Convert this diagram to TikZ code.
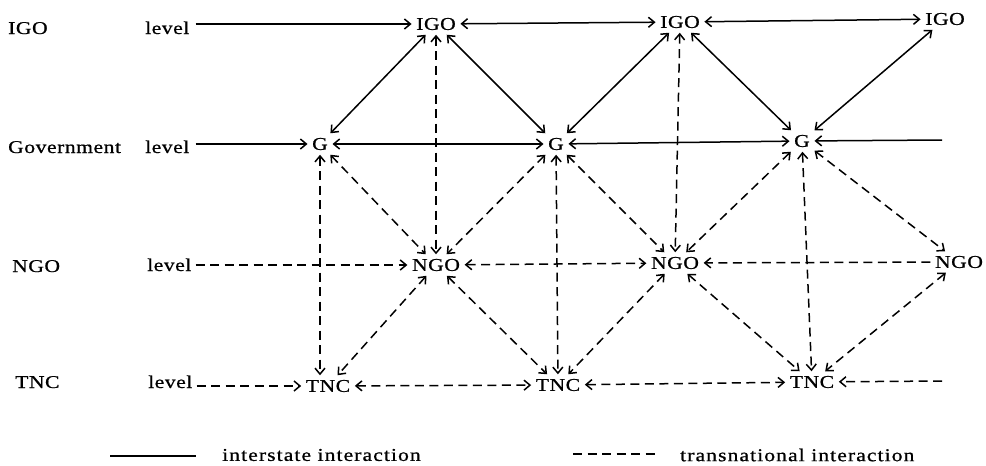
\documentclass[tikz,border=0pt]{standalone}
\usepackage{fontspec}
\setmainfont{Liberation Serif}[FakeStretch=1.2,LetterSpace=3,FakeBold=0.8]
\newfontfamily\legendfont{Liberation Serif}[FakeStretch=1.2,LetterSpace=6,FakeBold=0.8]
\usetikzlibrary{arrows.meta}
\begin{document}
\begin{tikzpicture}[x=1pt,y=-1pt,
  every node/.style={font=\fontsize{18}{21}\selectfont, inner sep=4.5pt},
  >={Straight Barb[length=6pt,width=10pt]},
  link/.style={line width=1.5pt},
  trans/.style={line width=1.5pt, dash pattern=on 9pt off 5.5pt},
  lbl/.style={anchor=base west, inner sep=0pt}]
\useasboundingbox (0,0) rectangle (986,466);

% row labels
\node[lbl] (tIGO) at (8,34) {IGO};
\node[lbl] (tGov) at (8,153) {Government};
\node[lbl] (tNGO) at (12,272) {NGO};
\node[lbl] (tTNC) at (15,388) {TNC};
\node[lbl] (lv1) at (145,34) {level};
\node[lbl] (lv2) at (145,153) {level};
\node[lbl] (lv3) at (147,271) {level};
\node[lbl] (lv4) at (148,388) {level};

% actors
\node (IGO1) at (436,24) {IGO};
\node (IGO2) at (680,22) {IGO};
\node (IGO3) at (945,19) {IGO};
\node (G1) at (320,144) {G};
\node (G2) at (556,144) {G};
\node (G3) at (802,141) {G};
\node (NGO1) at (436,265) {NGO};
\node (NGO2) at (675,263) {NGO};
\node (NGO3) at (959,262) {NGO};
\node (TNC1) at (328,386) {TNC};
\node (TNC2) at (558,385) {TNC};
\node (TNC3) at (812,382) {TNC};

\coordinate (gend) at (942,140);
\coordinate (tend) at (942,381);

% interstate links
\draw[link,->] ([xshift=6pt]lv1.east |- IGO1) -- (IGO1);
\draw[link,->] ([xshift=6pt]lv2.east |- G1) -- (G1);
\draw[link,->] (gend) -- (G3);
\draw[link,<->] (IGO1) -- (IGO2);
\draw[link,<->] (IGO2) -- (IGO3);
\draw[link,<->] (G1) -- (G2);
\draw[link,<->] (G2) -- (G3);
\draw[link,<->] (IGO1) -- (G1);
\draw[link,<->] (IGO1) -- (G2);
\draw[link,<->] (IGO2) -- (G2);
\draw[link,<->] (IGO2) -- (G3);
\draw[link,<->] (IGO3) -- (G3);

% transnational links
\draw[trans,->] ([xshift=4pt]lv3.east |- NGO1) -- (NGO1);
\draw[trans,->] ([xshift=4pt]lv4.east |- TNC1) -- (TNC1);
\draw[trans,->] (NGO3) -- (NGO2);
\draw[trans,->] (tend) -- (TNC3);
\draw[trans,<->] (NGO1) -- (NGO2);
\draw[trans,<->] (TNC1) -- (TNC2);
\draw[trans,<->] (TNC2) -- (TNC3);
\draw[trans,<->] (IGO1) -- (NGO1);
\draw[trans,<->] (IGO2) -- (NGO2);
\draw[trans,<->] (G1.south) -- (G1.south |- TNC1.north);
\draw[trans,<->] (G2) -- (TNC2);
\draw[trans,<->] (G3) -- (TNC3);
\draw[trans,<->] (G1) -- (NGO1);
\draw[trans,<->] (G2) -- (NGO1);
\draw[trans,<->] (G2) -- (NGO2);
\draw[trans,<->] (G3) -- (NGO2);
\draw[trans,<->] (G3) -- (NGO3);
\draw[trans,<->] (NGO1) -- (TNC1);
\draw[trans,<->] (NGO1) -- (TNC2);
\draw[trans,<->] (NGO2) -- (TNC2);
\draw[trans,<->] (NGO2) -- (TNC3);
\draw[trans,<->] (NGO3) -- (TNC3);

% legend
\coordinate (ls1) at (110,456);
\coordinate (ls2) at (196,456);
\coordinate (lt1) at (573,454);
\coordinate (lt2) at (657,454);
\draw[link] (ls1) -- (ls2);
\draw[trans] (lt1) -- (lt2);
\node[anchor=west, inner sep=0pt, font=\fontsize{18}{21}\legendfont] (lsT) at (222,455) {interstate interaction};
\node[anchor=west, inner sep=0pt, font=\fontsize{18}{21}\legendfont] (ltT) at (680,455) {transnational interaction};
\end{tikzpicture}
\end{document}
